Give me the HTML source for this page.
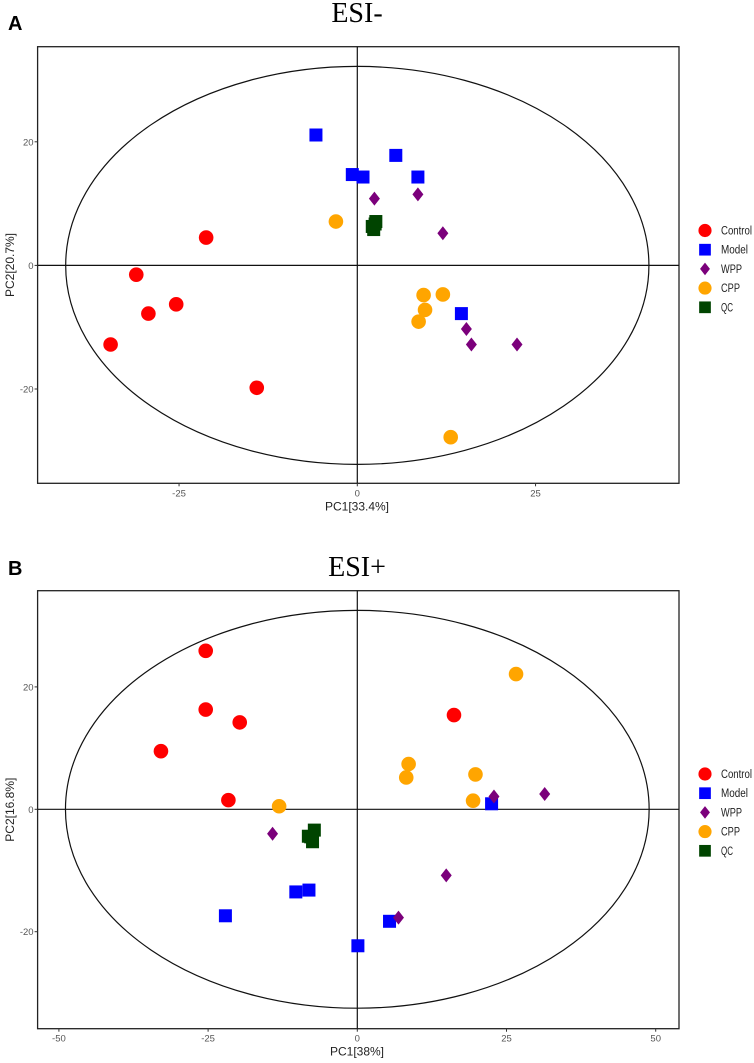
<!DOCTYPE html>
<html><head><meta charset="utf-8"><style>
html,body{margin:0;padding:0;background:#fff;}
svg{display:block;font-family:"Liberation Sans",sans-serif;}
</style></head><body>
<svg id="fig" width="754" height="1063" viewBox="0 0 754 1063"></svg>
<script>
// Panel A (ESI-) data
const groups = ["Control","Model","WPP","CPP","QC"];
const colorsA = ["#ff0000","#0000ff","#7b007b","#ffa500","#004400"];
const aControlX=[-21.2,-31.0,-25.4,-29.3,-34.6,-14.1];
const aControlY=[4.5,-1.5,-6.3,-7.8,-12.8,-19.8];
const aModelX=[-5.8,-0.7,0.8,5.4,8.5,14.6];
const aModelY=[21.1,14.7,14.3,17.8,14.3,-7.8];
const aWppX=[2.4,8.5,12.0,15.3,16.0,22.4];
const aWppY=[10.8,11.5,5.2,-10.3,-12.8,-12.8];
const aCppX=[-3.0,9.3,12.0,9.5,8.6,13.1];
const aCppY=[7.1,-4.8,-4.7,-7.2,-9.1,-27.8];
const aQcX=[2.1,2.6,2.3,2.5];
const aQcY=[6.3,7.1,5.8,6.7];
const aXTicks=[-25,0,25];
const aYTicks=[20,0,-20];
// Panel B (ESI+) data
const bControlX=[-25.4,-25.4,-19.7,-32.9,-21.6,16.2];
const bControlY=[25.9,16.3,14.2,9.5,1.5,15.4];
const bModelX=[22.5,-10.3,-8.1,-22.1,5.4,0.1];
const bModelY=[0.9,-13.5,-13.2,-17.4,-18.3,-22.3];
const bWppX=[-14.2,22.9,31.4,14.9,6.9];
const bWppY=[-4.0,2.1,2.5,-10.8,-17.7];
const bCppX=[26.6,8.6,8.2,19.8,19.4,-13.1];
const bCppY=[22.1,7.4,5.2,5.7,1.4,0.5];
const bQcX=[-7.2,-8.2,-7.5,-7.8];
const bQcY=[-3.4,-4.4,-5.3,-4.5];
const bXTicks=[-50,-25,0,25,50];
const bYTicks=[20,0,-20];
const legendWidths=[31,27,21,19,12];

const NS="http://www.w3.org/2000/svg";
const svg=document.getElementById('fig');
function mk(tag,attrs,parent,text){const e=document.createElementNS(NS,tag);for(const k in attrs)e.setAttribute(k,attrs[k]);if(text!==undefined)e.textContent=text;(parent||svg).appendChild(e);return e;}

function marker(g,shape,cx,cy,color,s){
  s=s||1;
  let e;
  if(shape==="circle"){e=mk('circle',{cx:cx,cy:cy,r:7.3*s,fill:color},g);}
  else if(shape==="square"){e=mk('rect',{x:cx-6.5*s,y:cy-6.5*s,width:13*s,height:13*s,fill:color},g);}
  else {e=mk('polygon',{points:`${cx},${cy-7*s} ${cx+5.5*s},${cy} ${cx},${cy+7*s} ${cx-5.5*s},${cy}`,fill:color},g);}
  return e;
}
const shapes=["circle","square","diamond","circle","square"];

function panel(p){
  const g=mk('g',{});
  
  
  const sx=v=>p.x0+v*p.kx, sy=v=>p.y0-v*p.ky;
  const t=mk('text',{x:357,y:p.titleY,'font-family':'"Liberation Serif",serif','font-size':28,'text-anchor':'middle',fill:'#000'},g,p.title);
  
  const l=mk('text',{x:8,y:p.letterY,'font-size':20,'font-weight':'bold',fill:'#000'},g,p.letter);
  
  const box=mk('rect',{x:p.L,y:p.T,width:p.R-p.L,height:p.B-p.T,fill:'none',stroke:'#222','stroke-width':1.3},g);
  
  const ell=mk('ellipse',{cx:sx(0),cy:sy(0),rx:p.ex*p.kx,ry:p.ey*p.ky,fill:'none',stroke:'#111','stroke-width':1.2},g);
  
  const vl=mk('line',{x1:sx(0),x2:sx(0),y1:p.T,y2:p.B,stroke:'#111','stroke-width':1.2},g);
  
  const hl=mk('line',{x1:p.L,x2:p.R,y1:sy(0),y2:sy(0),stroke:'#111','stroke-width':1.2},g);
  
  p.xt.forEach(v=>{
    mk('line',{x1:sx(v),x2:sx(v),y1:p.B,y2:p.B+3,stroke:'#333'},g);
    const e=mk('text',{x:sx(v),y:p.B+13,'font-size':9.5,fill:'#555','text-anchor':'middle'},g,v);
    
  });
  p.yt.forEach(v=>{
    mk('line',{x1:p.L-3,x2:p.L,y1:sy(v),y2:sy(v),stroke:'#333'},g);
    const e=mk('text',{x:p.L-4,y:sy(v)+3.5,'font-size':9.5,fill:'#555','text-anchor':'end'},g,v);
    
  });
  const xt=mk('text',{x:357,y:p.B+27,'font-size':12,fill:'#222','text-anchor':'middle'},g,p.xlab);
  
  const yc=(p.T+p.B)/2;
  const yt=mk('text',{x:0,y:0,'font-size':12,fill:'#222','text-anchor':'middle',transform:`translate(14,${yc}) rotate(-90)`},g,p.ylab);
  
  p.series.forEach((s,i)=>{
    s[0].forEach((xv,j)=>{
      const m=marker(g,shapes[i],sx(xv),sy(s[1][j]),colorsA[i]);
      
      
    });
  });
  groups.forEach((name,i)=>{
    const y=p.legY+i*19.2;
    const lg=mk('g',{},g);
    
    
    marker(lg,shapes[i],705,y,colorsA[i],0.9);
    mk('text',{x:721,y:y+4,'font-size':11.5,fill:'#222',textLength:legendWidths[i],lengthAdjust:'spacingAndGlyphs'},lg,name);
  });
}
panel({name:'panel-a-esi-neg',title:'ESI-',titleY:22,letter:'A',letterY:30,L:37.6,R:679,T:46.7,B:483.3,
  x0:357.3,kx:7.13,y0:265.4,ky:6.18,ex:40.9,ey:32.2,xt:aXTicks,yt:aYTicks,xlab:'PC1[33.4%]',ylab:'PC2[20.7%]',legY:230.5,
  series:[[aControlX,aControlY],[aModelX,aModelY],[aWppX,aWppY],[aCppX,aCppY],[aQcX,aQcY]]});
panel({name:'panel-b-esi-pos',title:'ESI+',titleY:576,letter:'B',letterY:575,L:37.6,R:679,T:590.7,B:1028.7,
  x0:357.3,kx:5.968,y0:809.3,ky:6.12,ex:48.9,ey:32.5,xt:bXTicks,yt:bYTicks,xlab:'PC1[38%]',ylab:'PC2[16.8%]',legY:774,
  series:[[bControlX,bControlY],[bModelX,bModelY],[bWppX,bWppY],[bCppX,bCppY],[bQcX,bQcY]]});
</script>
</body></html>
